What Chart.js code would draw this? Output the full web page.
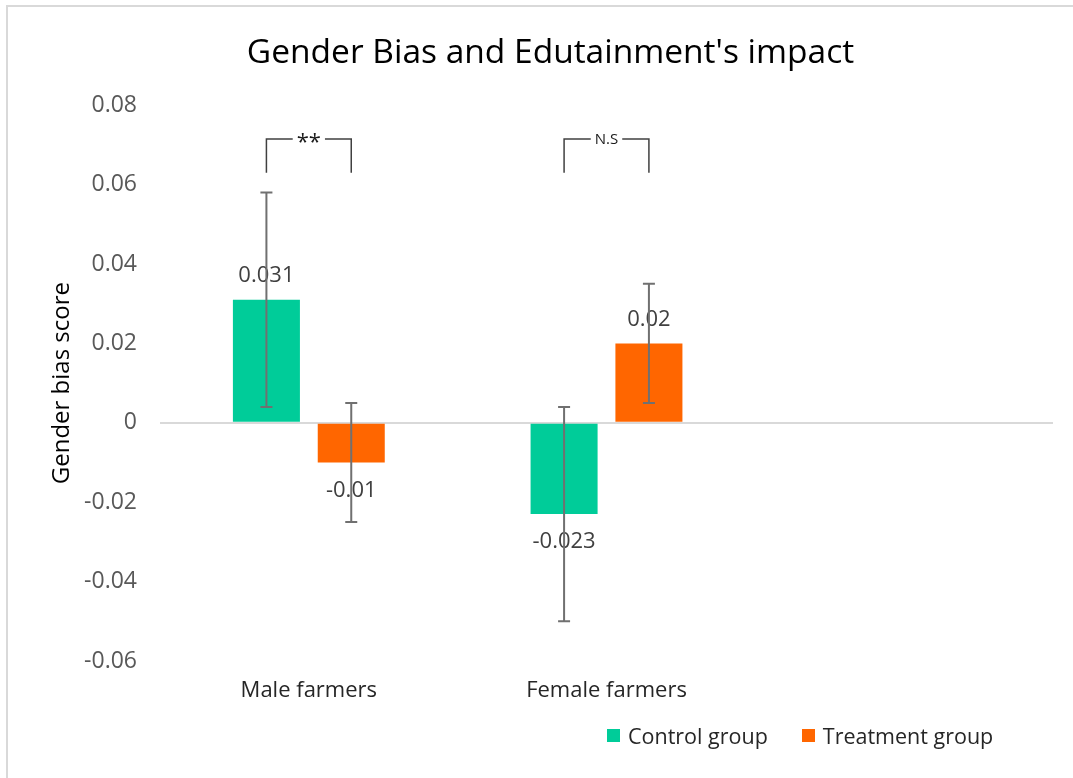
<!DOCTYPE html>
<html>
<head>
<meta charset="utf-8">
<script src="https://cdn.jsdelivr.net/npm/chart.js@4.4.1/dist/chart.umd.min.js"></script>
<style>
  body { margin: 0; background: #fff; }
  #wrap { position: relative; width: 1073px; height: 778px; overflow: hidden; }
  #frame { position: absolute; left: 6px; top: 5px; width: 1100px; height: 800px;
           border: 2px solid #d9d9d9; box-sizing: border-box; pointer-events: none; }
  #legend { position: absolute; left: 607px; top: 721px; display: flex; align-items: center;
            font-family: 'Open Sans', sans-serif; font-size: 21.5px; color: #262626; }
  #legend .item { display: flex; align-items: center; margin-right: 34px; }
  #legend .box { width: 13px; height: 13px; margin-right: 8px; }
</style>
</head>
<body>
<div id="wrap">
  <canvas id="biasChart" width="1073" height="778"></canvas>
  <div id="frame"></div>
  <div id="legend"></div>
</div>
<script>
const categories = ['Male farmers', 'Female farmers', ''];
const seriesNames = ['Control group', 'Treatment group'];
const seriesColors = ['#00CC99', '#FF6600'];
const controlValues = [0.031, -0.023, null];
const treatmentValues = [-0.01, 0.02, null];
const controlErrors = [0.027, 0.027, null];
const treatmentErrors = [0.015, 0.015, null];
const yMin = -0.06, yMax = 0.08, yStep = 0.02;
// significance brackets between the two bars of a category
const bracketLabels = ['**', 'N.S'];
const bracketTop = 0.0715;
const bracketBottom = 0.063;

const errors = [controlErrors, treatmentErrors];

// error bars, value labels and brackets
const overlayPlugin = {
  id: 'overlay',
  afterDatasetsDraw(chart) {
    const ctx = chart.ctx;
    const y = chart.scales.y;
    ctx.save();

    // value labels
    ctx.font = '22px "Open Sans"';
    ctx.fillStyle = '#404040';
    ctx.textAlign = 'center';
    ctx.textBaseline = 'middle';
    chart.data.datasets.forEach((ds, i) => {
      chart.getDatasetMeta(i).data.forEach((bar, j) => {
        const v = ds.data[j];
        if (v == null) return;
        const ly = v >= 0 ? bar.y - 24 : bar.y + 28;
        ctx.fillText(String(v), bar.x, ly);
      });
    });

    // error bars
    ctx.strokeStyle = '#707070';
    ctx.lineWidth = 2;
    chart.data.datasets.forEach((ds, i) => {
      chart.getDatasetMeta(i).data.forEach((bar, j) => {
        const v = ds.data[j];
        const e = errors[i][j];
        if (v == null || e == null) return;
        const y1 = y.getPixelForValue(v + e);
        const y2 = y.getPixelForValue(v - e);
        ctx.beginPath();
        ctx.moveTo(bar.x, y1); ctx.lineTo(bar.x, y2);
        ctx.moveTo(bar.x - 6, y1); ctx.lineTo(bar.x + 6, y1);
        ctx.moveTo(bar.x - 6, y2); ctx.lineTo(bar.x + 6, y2);
        ctx.stroke();
      });
    });

    // brackets
    const yt = y.getPixelForValue(bracketTop);
    const yb = y.getPixelForValue(bracketBottom);
    ctx.strokeStyle = '#404040';
    ctx.lineWidth = 1.5;
    bracketLabels.forEach((label, j) => {
      const x1 = chart.getDatasetMeta(0).data[j].x;
      const x2 = chart.getDatasetMeta(1).data[j].x;
      const mid = (x1 + x2) / 2;
      ctx.font = label === '**' ? '22px "Open Sans"' : '15px "Open Sans"';
      const half = ctx.measureText(label).width / 2 + 4;
      ctx.beginPath();
      ctx.moveTo(x1, yb); ctx.lineTo(x1, yt); ctx.lineTo(mid - half, yt);
      ctx.moveTo(mid + half, yt); ctx.lineTo(x2, yt); ctx.lineTo(x2, yb);
      ctx.stroke();
      ctx.fillStyle = '#1a1a1a';
      ctx.fillText(label, mid, label === '**' ? yt + 4 : yt + 1);
    });
    ctx.restore();
  }
};

function buildLegend() {
  const legend = document.getElementById('legend');
  seriesNames.forEach((name, i) => {
    const item = document.createElement('div');
    item.className = 'item';
    const box = document.createElement('span');
    box.className = 'box';
    box.style.background = seriesColors[i];
    item.appendChild(box);
    item.appendChild(document.createTextNode(name));
    legend.appendChild(item);
  });
}

function initChart() {
  const ctx = document.getElementById('biasChart').getContext('2d');
  new Chart(ctx, {
    type: 'bar',
    data: {
      labels: categories,
      datasets: [
        { label: seriesNames[0], data: controlValues, backgroundColor: seriesColors[0] },
        { label: seriesNames[1], data: treatmentValues, backgroundColor: seriesColors[1] }
      ]
    },
    options: {
      responsive: false,
      animation: false,
      categoryPercentage: 0.57,
      barPercentage: 0.79,
      layout: { padding: { top: 10, left: 48, right: 20, bottom: 75 } },
      plugins: {
        legend: { display: false },
        tooltip: { enabled: false },
        title: {
          display: true,
          text: "Gender Bias and Edutainment's impact",
          color: '#000',
          font: { family: 'Open Sans', size: 33.5, weight: 'normal' },
          padding: { top: 23, bottom: 32 }
        }
      },
      scales: {
        x: {
          grid: { display: false, drawTicks: false },
          border: { display: false },
          afterFit: s => { s.height = 42; },
          ticks: { color: '#262626', padding: 17, maxRotation: 0,
                   font: { family: 'Open Sans', size: 22 } }
        },
        y: {
          min: yMin,
          max: yMax,
          border: { display: false },
          afterFit: s => { s.width = 112; },
          grid: {
            drawTicks: false,
            lineWidth: 2,
            color: c => Math.abs(c.tick.value) < 1e-9 ? '#d9d9d9' : 'rgba(0,0,0,0)'
          },
          ticks: {
            stepSize: yStep,
            padding: 23,
            color: '#595959',
            font: { family: 'Open Sans', size: 23 },
            callback: v => String(Number(v.toFixed(2)))
          },
          title: {
            display: true,
            text: 'Gender bias score',
            color: '#000',
            font: { family: 'Open Sans', size: 24 },
            padding: { top: 0, bottom: 0 }
          }
        }
      }
    },
    plugins: [overlayPlugin]
  });
}

document.addEventListener('DOMContentLoaded', () => {
  buildLegend();
  initChart();
});
</script>
</body>
</html>
